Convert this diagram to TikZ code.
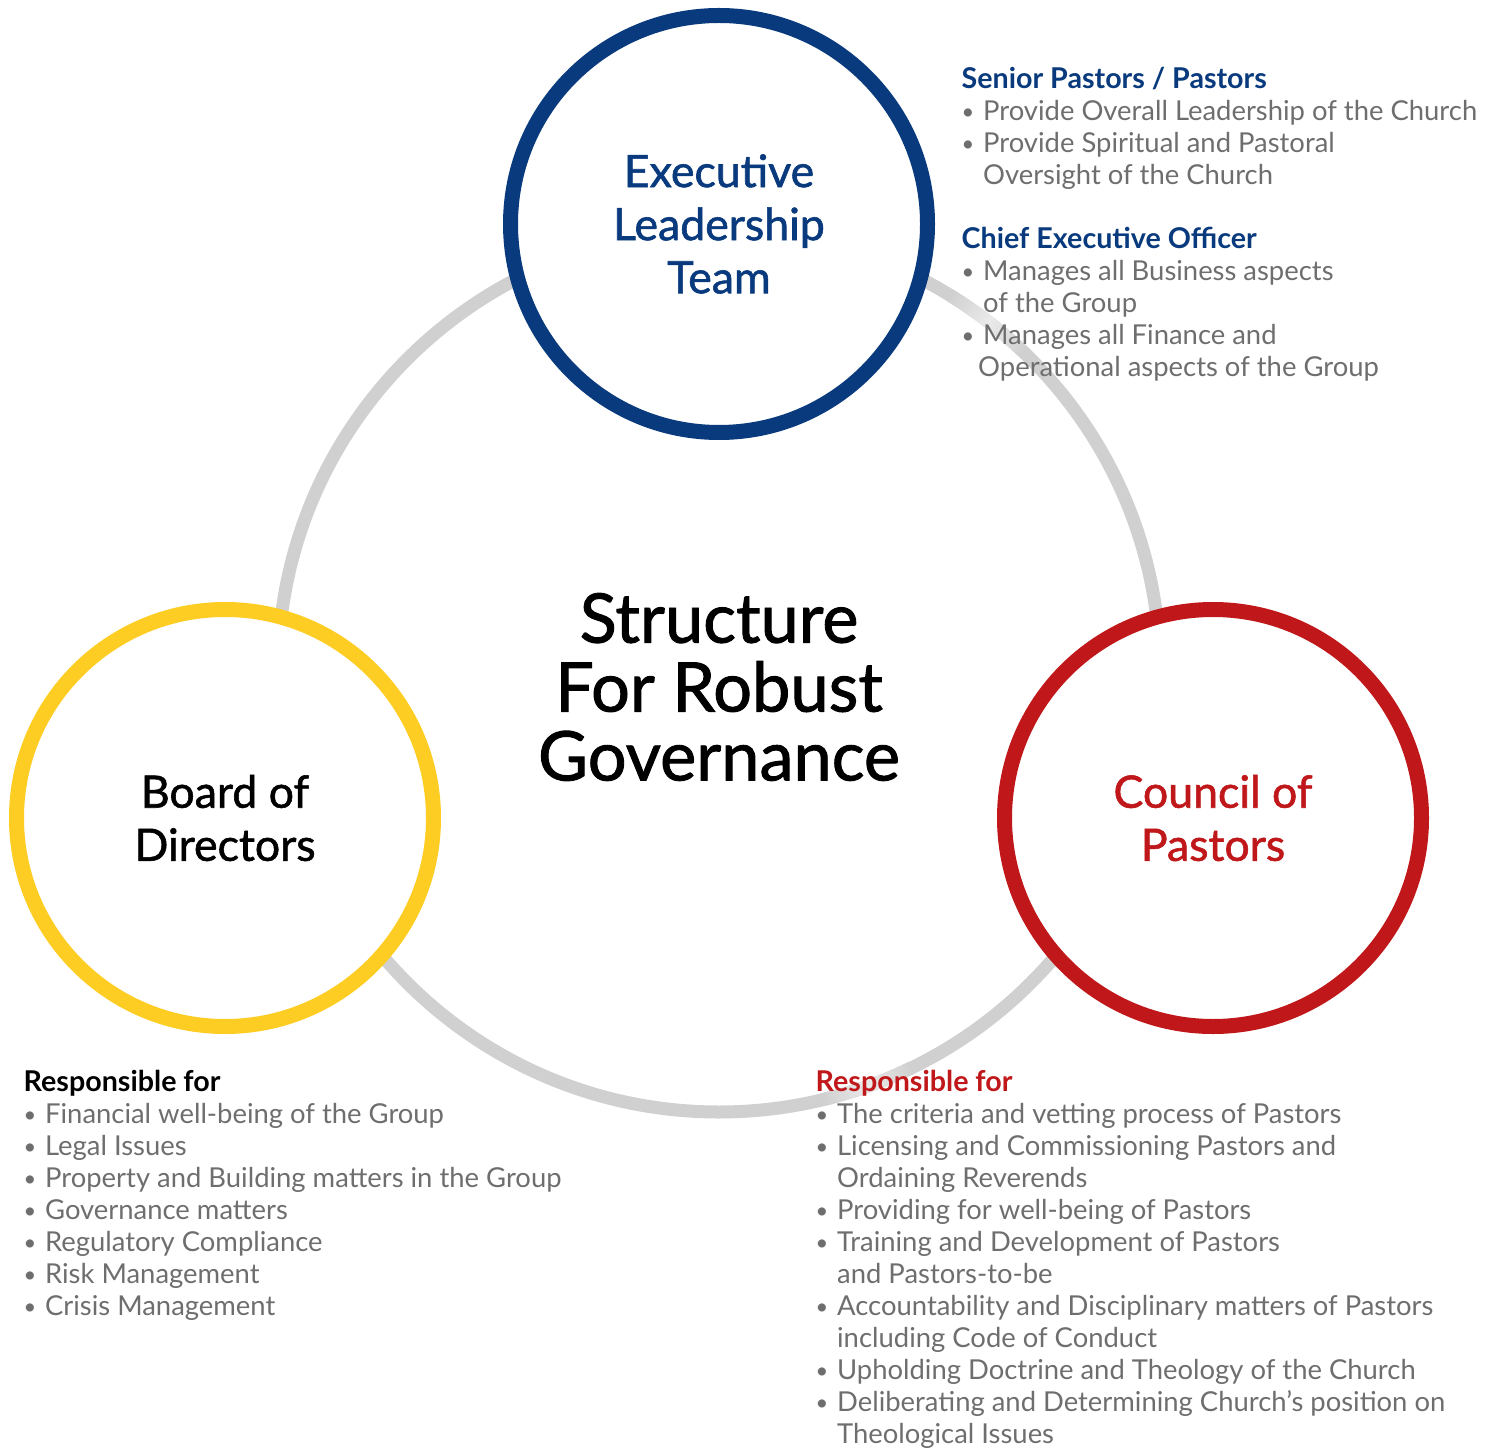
\documentclass[tikz,border=0pt]{standalone}
\usepackage{fontspec}
\setmainfont{Lato}
\newfontfamily\medfont[FakeBold=1.3]{Lato}
\usetikzlibrary{positioning}
\definecolor{execblue}{RGB}{8,58,125}
\definecolor{councilred}{RGB}{192,24,26}
\definecolor{boardyellow}{RGB}{253,205,35}
\definecolor{ringgray}{RGB}{208,208,208}
\definecolor{infogray}{RGB}{110,110,110}
\newcommand{\bul}{\makebox[6.1pt][l]{\raisebox{0.3pt}{\scalebox{0.8}{\textbullet}}}}
\newcommand{\cont}{\hspace*{6.1pt}}
\newcommand{\head}[2]{\textcolor{#1}{\fontsize{8.15}{9.1}\selectfont\bfseries #2}}

\begin{document}
\begin{tikzpicture}
    [
        node distance=5.94cm and 4.94cm, on grid,
        ring_node/.style={circle, fill=white, line width=1.5mm, minimum size=4.17cm, inner sep=0pt, align=center, font=\medfont\fontsize{12.7}{15.1}\selectfont},
        info_node/.style={anchor=north west, inner sep=0pt, align=left, text=infogray, font=\fontsize{7.8}{9.1}\selectfont},
    ]
        \useasboundingbox (0,0) rectangle (14.93,-14.50);
        \node[circle, draw=ringgray, line width=1.3mm, minimum size=8.82cm] (ring) at (7.19,-6.71) {};
        % light streaks on the ring
        \foreach \mid in {52.5,-70} {
            \foreach \a in {0,...,24} {
                \pgfmathsetmacro\ang{\mid+6-\a*0.5}
                \pgfmathtruncatemacro\tone{100-55*(1-abs(\a-12)/12)}
                \draw[line width=1.3mm, draw=ringgray!\tone!white] ([shift={(\ang:4.41)}]ring.center) arc[start angle=\ang, end angle=\ang-0.56, radius=4.41];
            }
        }
        \node[ring_node, draw=execblue, text=execblue] (exec) at (7.19,-2.24) {Executive\\Leadership\\Team};
        \node[ring_node, draw=boardyellow, text=black] (board) [below left = of exec] {Board of\\Directors};
        \node[ring_node, draw=councilred, text=councilred] (council) [below right = of exec] {Council of\\Pastors};
        \node[align=center, font=\medfont\fontsize{19.5}{19.6}\selectfont] (title) at (7.19,-6.87) {Structure\\For Robust\\Governance};
        % roles of the executive team
        \node[info_node] (exec_info) at (9.61,-0.656) {\strut\head{execblue}{Senior Pastors / Pastors}\\
            \bul Provide Overall Leadership of the Church\\
            \bul Provide Spiritual and Pastoral\\
            \cont Oversight of the Church\\
            \\
            \head{execblue}{Chief Executive Officer}\\
            \bul Manages all Business aspects\\
            \cont of the Group\\
            \bul Manages all Finance and\\
            \hspace*{4.7pt}Operational aspects of the Group};
        % board duties
        \node[info_node] (board_info) at (0.23,-10.686) {\strut\head{black}{Responsible for}\\
            \bul Financial well-being of the Group\\
            \bul Legal Issues\\
            \bul Property and Building matters in the Group\\
            \bul Governance matters\\
            \bul Regulatory Compliance\\
            \bul Risk Management\\
            \bul Crisis Management};
        % council duties
        \node[info_node] (council_info) at (8.15,-10.686) {\strut\head{councilred}{Responsible for}\\
            \bul The criteria and vetting process of Pastors\\
            \bul Licensing and Commissioning Pastors and\\
            \cont Ordaining Reverends\\
            \bul Providing for well-being of Pastors\\
            \bul Training and Development of Pastors\\
            \cont and Pastors-to-be\\
            \bul Accountability and Disciplinary matters of Pastors\\
            \cont including Code of Conduct\\
            \bul Upholding Doctrine and Theology of the Church\\
            \bul Deliberating and Determining Church's position on\\
            \cont Theological Issues};
    \end{tikzpicture}
\end{document}
